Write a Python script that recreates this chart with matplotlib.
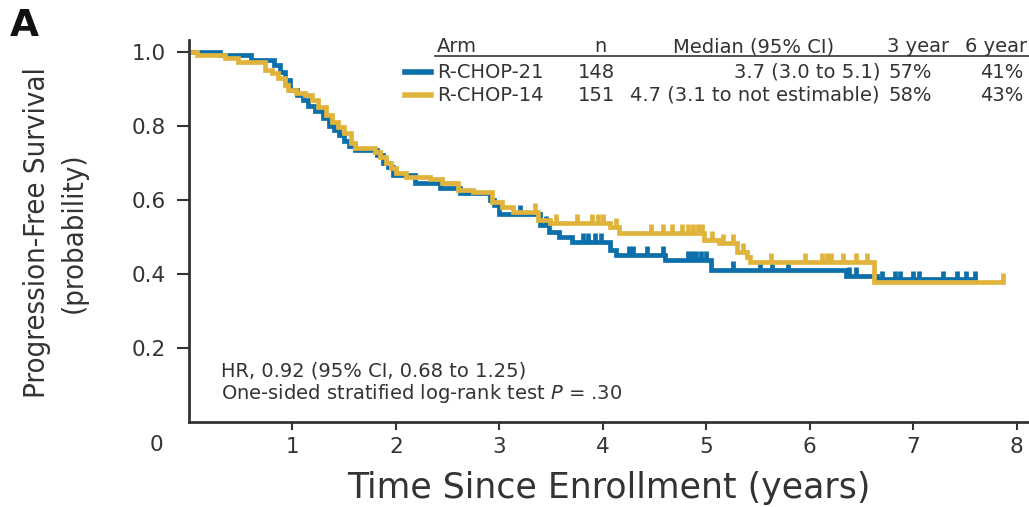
import numpy as np
import matplotlib
matplotlib.use("Agg")
import matplotlib.pyplot as plt
from matplotlib.lines import Line2D

# step curves (time in years, survival after the drop)
blue_t = [0, 0.30, 0.60, 0.82, 0.88, 0.93, 0.98, 1.04, 1.10, 1.15, 1.22, 1.30, 1.35,
          1.40, 1.45, 1.50, 1.55, 1.60, 1.82, 1.88, 1.92, 1.97, 2.18, 2.43, 2.62, 2.91,
          2.95, 3.00, 3.39, 3.48, 3.58, 3.70, 4.07, 4.13, 4.60, 5.05, 6.35, 6.65, 7.60]
blue_s = [1.0, 0.991, 0.978, 0.965, 0.945, 0.925, 0.898, 0.884, 0.870, 0.855, 0.840,
          0.820, 0.800, 0.790, 0.775, 0.760, 0.745, 0.735, 0.720, 0.700, 0.690, 0.667,
          0.646, 0.632, 0.620, 0.600, 0.585, 0.563, 0.532, 0.514, 0.500, 0.486, 0.465,
          0.451, 0.438, 0.410, 0.395, 0.385, 0.385]
blue_cens = [3.20, 3.45, 3.81, 3.86, 3.92, 3.98, 4.25, 4.29, 4.43, 4.58, 4.82, 4.86,
             4.90, 4.95, 5.00, 5.26, 5.52, 5.64, 5.79, 6.38, 6.45, 6.70, 6.82, 6.87,
             7.00, 7.06, 7.29, 7.42, 7.51, 7.60]

gold_t = [0, 0.08, 0.35, 0.47, 0.73, 0.80, 0.86, 0.93, 0.96, 1.03, 1.12, 1.19, 1.25,
          1.32, 1.38, 1.44, 1.50, 1.57, 1.60, 1.80, 1.85, 1.90, 1.95, 2.00, 2.10, 2.33,
          2.45, 2.60, 2.75, 2.93, 3.03, 3.13, 3.37, 3.49, 4.07, 4.16, 4.98, 5.12, 5.30,
          5.39, 5.42, 6.62, 7.87]
gold_s = [1.0, 0.992, 0.984, 0.973, 0.951, 0.943, 0.930, 0.911, 0.897, 0.889, 0.884,
          0.870, 0.851, 0.830, 0.810, 0.797, 0.781, 0.754, 0.740, 0.730, 0.715, 0.700,
          0.685, 0.672, 0.662, 0.656, 0.646, 0.627, 0.622, 0.595, 0.581, 0.568, 0.546,
          0.537, 0.527, 0.511, 0.492, 0.484, 0.460, 0.446, 0.432, 0.378, 0.378]
gold_cens = [3.34, 3.55, 3.75, 3.90, 3.95, 4.00, 4.13, 4.47, 4.58, 4.67, 4.77, 4.82,
             4.87, 4.92, 4.96, 5.06, 5.16, 5.26, 5.36, 5.63, 5.95, 6.12, 6.17, 6.21,
             6.32, 6.45, 6.55, 7.87]

arms = ["R-CHOP-21", "R-CHOP-14"]
n_pts = ["148", "151"]
medians = ["3.7 (3.0 to 5.1)", "4.7 (3.1 to not estimable)"]
yr3 = ["57%", "58%"]
yr6 = ["41%", "43%"]

BLUE = "#0b6fab"
GOLD = "#e0b43c"
INK = "#333333"

W, H = 1029, 507
fig = plt.figure(figsize=(W / 100, H / 100), dpi=100)
ax = fig.add_axes([189 / W, (H - 422) / H, (W - 189) / W, (422 - 40) / H])


def cens_y(t, s, c):
    idx = np.searchsorted(t, c, side="right") - 1
    return np.array(s)[idx]


for t, s, c, col in [(blue_t, blue_s, blue_cens, BLUE), (gold_t, gold_s, gold_cens, GOLD)]:
    ax.step(t, s, where="post", color=col, lw=3.4, solid_joinstyle="miter")
    cy = cens_y(np.array(t), s, np.array(c))
    ax.vlines(c, cy, cy + 0.024, color=col, lw=3.4)

ax.set_xlim(0, 8.12)
ax.set_ylim(0, 1.032)
ax.set_xticks(range(1, 9))
ax.set_yticks([0.2, 0.4, 0.6, 0.8, 1.0])
ax.set_yticklabels(["0.2", "0.4", "0.6", "0.8", "1.0"])
ax.spines["top"].set_visible(False)
ax.spines["right"].set_visible(False)
for sp in ["left", "bottom"]:
    ax.spines[sp].set_linewidth(2)
    ax.spines[sp].set_color(INK)
ax.tick_params(axis="y", length=9, width=1.5, color=INK, pad=8, labelsize=15.5, labelcolor=INK)
ax.tick_params(axis="x", length=6, width=1.5, color=INK, pad=5, labelsize=15.5, labelcolor=INK)
ax.text(-0.31, -0.06, "0", transform=ax.get_xaxis_transform(), ha="center", va="center",
        fontsize=15.5, color=INK, clip_on=False)

ax.text(0.31, 0.138, "HR, 0.92 (95% CI, 0.68 to 1.25)", fontsize=14, color=INK, va="center")
ax.text(0.31, 0.078, "One-sided stratified log-rank test $P$ = .30", fontsize=14, color=INK,
        va="center")

ax.set_xlabel("Time Since Enrollment (years)", fontsize=25, color=INK, labelpad=10)
fig.text(55 / W, 1 - 233 / H, "Progression-Free Survival\n(probability)", rotation=90,
         ha="center", va="center", fontsize=21, color=INK, linespacing=1.4,
         fontstretch="condensed")
fig.text(10 / W, 1 - 26 / H, "A", fontsize=27, fontweight="bold", color="#111111", va="center")


# table-style legend in the upper right
def px(x, y):
    return x / W, 1 - y / H


fs = 14
fig.text(*px(437, 47), "Arm", fontsize=fs, color=INK, va="center")
fig.text(*px(594, 47), "n", fontsize=fs, color=INK, va="center")
fig.text(*px(673, 47), "Median (95% CI)", fontsize=fs, color=INK, va="center")
fig.text(*px(887, 47), "3 year", fontsize=fs, color=INK, va="center")
fig.text(*px(965, 47), "6 year", fontsize=fs, color=INK, va="center")
fig.add_artist(Line2D([435 / W, 1.0], [1 - 56 / H, 1 - 56 / H], color=INK, lw=1.2))
for i, (arm, n, med, a, b) in enumerate(zip(arms, n_pts, medians, yr3, yr6)):
    yy = 72 + 23 * i
    col = [BLUE, GOLD][i]
    fig.add_artist(Line2D([405 / W, 431 / W], [1 - yy / H, 1 - yy / H], color=col, lw=4))
    fig.text(*px(437, yy), arm, fontsize=fs, color=INK, va="center")
    fig.text(*px(578, yy), n, fontsize=fs, color=INK, va="center")
    fig.text(*px(880, yy), med, fontsize=fs, color=INK, va="center", ha="right")
    fig.text(*px(888, yy), a, fontsize=fs, color=INK, va="center")
    fig.text(*px(980, yy), b, fontsize=fs, color=INK, va="center")

fig.savefig("out.png", dpi=100)
